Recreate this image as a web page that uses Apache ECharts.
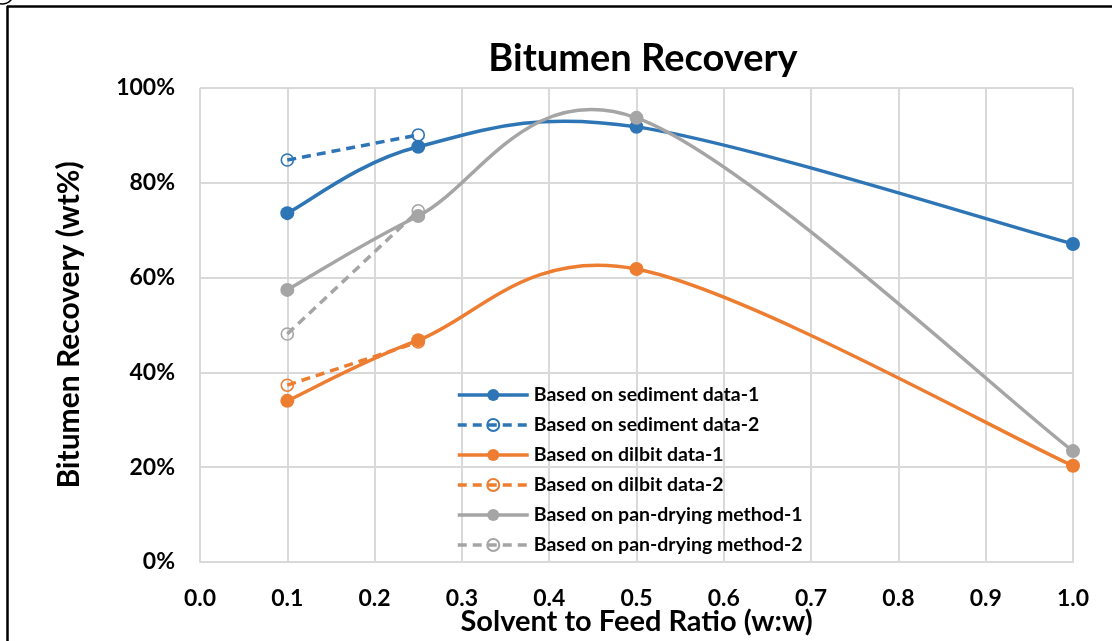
<!DOCTYPE html>
<html>
<head>
<meta charset="utf-8">
<script src="https://cdn.jsdelivr.net/npm/echarts@6/dist/echarts.min.js"></script>
<style>
  html, body { margin: 0; padding: 0; background: #fff; }
  #chart { width: 1112px; height: 641px; }
</style>
</head>
<body>
<div id="chart"></div>
<script>
// Solvent-to-feed ratios (w:w) and recoveries (wt%)
const ratioFull = [0.1, 0.25, 0.5, 1.0];
const ratioShort = [0.1, 0.25];

const sediment1 = [73.6, 87.6, 91.8, 67.1];
const sediment2 = [84.8, 90.1];
const dilbit1 = [34.0, 46.8, 61.8, 20.3];
const dilbit2 = [37.3, 46.4];
const panDrying1 = [57.4, 73.0, 93.7, 23.4];
const panDrying2 = [48.1, 74.1];

const seriesNames = [
  'Based on sediment data-1',
  'Based on sediment data-2',
  'Based on dilbit data-1',
  'Based on dilbit data-2',
  'Based on pan-drying method-1',
  'Based on pan-drying method-2'
];

const BLUE = '#2E75B6', ORANGE = '#ED7D31', GRAY = '#A5A5A5';
const FONT = 'Lato';
const LINE_W = 3.5;
const DASH = [9, 6];

function pairs(xs, ys) { return xs.map((x, i) => [x, ys[i]]); }

// Smoothed curve (Catmull-Rom style cubic Bezier through every point),
// positioned through the chart's own coordinate system.
function curveSeries(color, xs, ys, z) {
  return {
    type: 'custom',
    data: pairs(xs, ys),
    silent: true,
    z,
    renderItem(params, api) {
      if (params.dataIndex !== 0) return null;
      const pts = [];
      for (let i = 0; i < xs.length; i++) {
        pts.push(api.coord([api.value(0, i), api.value(1, i)]));
      }
      const children = [];
      for (let i = 0; i < pts.length - 1; i++) {
        const p0 = pts[Math.max(i - 1, 0)];
        const p1 = pts[i];
        const p2 = pts[i + 1];
        const p3 = pts[Math.min(i + 2, pts.length - 1)];
        children.push({
          type: 'bezierCurve',
          shape: {
            x1: p1[0], y1: p1[1], x2: p2[0], y2: p2[1],
            cpx1: p1[0] + (p2[0] - p0[0]) / 6, cpy1: p1[1] + (p2[1] - p0[1]) / 6,
            cpx2: p2[0] - (p3[0] - p1[0]) / 6, cpy2: p2[1] - (p3[1] - p1[1]) / 6
          },
          style: { stroke: color, lineWidth: LINE_W, fill: null, lineCap: 'round' }
        });
      }
      return { type: 'group', children };
    }
  };
}

// Markers for the smoothed series (the curve itself comes from curveSeries)
function solidMarks(name, color, xs, ys, z) {
  return {
    name, type: 'line', data: pairs(xs, ys),
    symbol: 'circle', symbolSize: 14,
    lineStyle: { color, width: LINE_W, opacity: 0 },
    itemStyle: { color, borderColor: color, borderWidth: 0 },
    z
  };
}
function dashed(name, color, xs, ys, z) {
  return {
    name, type: 'line', data: pairs(xs, ys),
    symbol: 'circle', symbolSize: 12,
    lineStyle: { color, width: LINE_W, type: DASH },
    itemStyle: { color: 'rgba(255,255,255,0)', borderColor: color, borderWidth: 1.6 },
    z
  };
}

const seriesColors = [BLUE, BLUE, ORANGE, ORANGE, GRAY, GRAY];

const chart = echarts.init(document.getElementById('chart'));
chart.setOption({
  backgroundColor: '#fff',
  animation: false,
  title: {
    text: 'Bitumen Recovery',
    left: 638, top: 35, textAlign: 'center',
    textStyle: { fontFamily: FONT, fontWeight: 'bold', fontSize: 38, color: '#000' }
  },
  grid: { left: 200, right: 39, top: 88, bottom: 79, outerBoundsMode: 'none', containLabel: false },
  xAxis: {
    type: 'value', min: 0, max: 1, interval: 0.1,
    name: 'Solvent to Feed Ratio (w:w)',
    nameLocation: 'middle', nameGap: 45, nameMoveOverlap: false,
    nameTextStyle: { fontFamily: FONT, fontWeight: 'bold', fontSize: 29, color: '#000' },
    axisLine: { show: true, lineStyle: { color: '#d9d9d9', width: 2 } },
    axisTick: { show: false },
    axisLabel: {
      margin: 25, formatter: v => v.toFixed(1),
      fontFamily: FONT, fontWeight: 'bold', fontSize: 23, color: '#000'
    },
    splitLine: { show: true, lineStyle: { color: '#d9d9d9', width: 2 } }
  },
  yAxis: {
    type: 'value', min: 0, max: 100, interval: 20,
    name: 'Bitumen Recovery (wt%)',
    nameLocation: 'middle', nameGap: 116, nameMoveOverlap: false,
    nameTextStyle: { fontFamily: FONT, fontWeight: 'bold', fontSize: 30, color: '#000' },
    axisLine: { show: false },
    axisTick: { show: false },
    axisLabel: {
      margin: 25, formatter: v => v + '%',
      fontFamily: FONT, fontWeight: 'bold', fontSize: 23, color: '#000'
    },
    splitLine: { show: true, lineStyle: { color: '#d9d9d9', width: 2 } }
  },
  legend: {
    orient: 'vertical', left: 451, top: 380,
    itemWidth: 71, itemHeight: 15, itemGap: 10,
    data: seriesNames.map((name, i) => ({
      name,
      lineStyle: { color: seriesColors[i], width: LINE_W, opacity: 1, type: i % 2 ? DASH : 'solid' }
    })),
    textStyle: { fontFamily: FONT, fontWeight: 'bold', fontSize: 19.5, color: '#000' }
  },
  series: [
    curveSeries(BLUE, ratioFull, sediment1, 3),
    curveSeries(ORANGE, ratioFull, dilbit1, 3),
    curveSeries(GRAY, ratioFull, panDrying1, 3),
    dashed(seriesNames[1], BLUE, ratioShort, sediment2, 4),
    dashed(seriesNames[3], ORANGE, ratioShort, dilbit2, 4),
    dashed(seriesNames[5], GRAY, ratioShort, panDrying2, 4),
    solidMarks(seriesNames[0], BLUE, ratioFull, sediment1, 5),
    solidMarks(seriesNames[2], ORANGE, ratioFull, dilbit1, 5),
    solidMarks(seriesNames[4], GRAY, ratioFull, panDrying1, 5)
  ],
  graphic: [
    // outer frame edges
    { type: 'line', shape: { x1: 7.5, y1: 6, x2: 7.5, y2: 641 }, style: { stroke: '#000', lineWidth: 2.5 } },
    { type: 'line', shape: { x1: 7, y1: 6.5, x2: 1112, y2: 6.5 }, style: { stroke: '#000', lineWidth: 2.5 } },
    { type: 'arc', shape: { cx: 2, cy: -8, r: 12, startAngle: 0, endAngle: Math.PI }, style: { stroke: '#000', lineWidth: 1.5, fill: null } }
  ]
});
</script>
</body>
</html>
